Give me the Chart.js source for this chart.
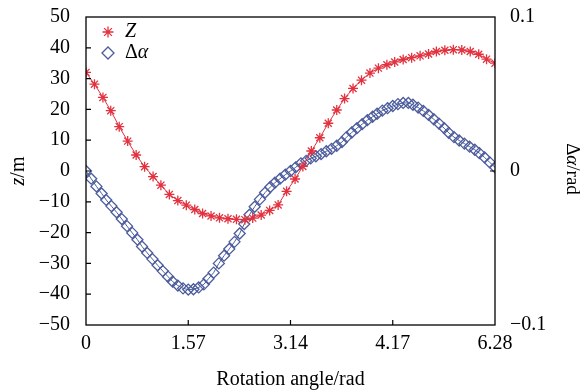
<!DOCTYPE html>
<html>
<head>
<meta charset="utf-8">
<script src="https://cdn.jsdelivr.net/npm/chart.js@4/dist/chart.umd.min.js"></script>
<style>
  html, body { margin: 0; padding: 0; background: #fff; }
  #wrap { width: 584px; height: 391px; }
</style>
</head>
<body>
<div id="wrap"><canvas id="chart" width="584" height="391"></canvas></div>
<script>
// Z series (m) vs rotation angle (rad)
const zAngle = [0.00, 0.13, 0.26, 0.38, 0.51, 0.64, 0.77, 0.90, 1.03, 1.15,
                1.28, 1.41, 1.54, 1.67, 1.79, 1.92, 2.05, 2.18, 2.31, 2.44,
                2.56, 2.69, 2.82, 2.95, 3.08, 3.21, 3.33, 3.46, 3.59, 3.72,
                3.85, 3.97, 4.10, 4.23, 4.36, 4.49, 4.62, 4.74, 4.87, 5.00,
                5.13, 5.26, 5.38, 5.51, 5.64, 5.77, 5.90, 6.03, 6.15, 6.28];
const zValue = [32.0, 28.2, 23.9, 19.6, 14.4, 9.7, 5.2, 1.4, -1.8, -4.6,
                -7.6, -9.6, -11.1, -12.5, -13.8, -14.6, -15.2, -15.5, -15.7, -15.8,
                -15.3, -14.3, -12.8, -11.0, -6.6, -2.6, 1.5, 6.5, 10.8, 15.5,
                19.8, 23.5, 26.8, 29.5, 31.8, 33.4, 34.5, 35.4, 36.2, 36.8,
                37.4, 38.0, 38.8, 39.2, 39.4, 39.3, 38.8, 37.9, 36.3, 35.0];

// delta alpha series (rad)
const alphaAngle = [0.00, 0.08, 0.16, 0.24, 0.31, 0.39, 0.47, 0.55, 0.63, 0.71, 0.79,
                    0.86, 0.94, 1.02, 1.10, 1.18, 1.26, 1.33, 1.41, 1.49, 1.57,
                    1.65, 1.73, 1.81, 1.88, 1.96, 2.04, 2.12, 2.20, 2.28, 2.36,
                    2.43, 2.51, 2.59, 2.67, 2.75, 2.83, 2.90, 2.98, 3.06, 3.14,
                    3.22, 3.30, 3.38, 3.45, 3.53, 3.61, 3.69, 3.77, 3.85, 3.93,
                    4.00, 4.08, 4.16, 4.24, 4.32, 4.40, 4.47, 4.55, 4.63, 4.71,
                    4.79, 4.87, 4.95, 5.02, 5.10, 5.18, 5.26, 5.34, 5.42, 5.50,
                    5.57, 5.65, 5.73, 5.81, 5.89, 5.97, 6.04, 6.12, 6.20, 6.28];
const alphaValue = [0, -0.0050, -0.0100, -0.0146, -0.0188, -0.0228, -0.0268, -0.0312, -0.0358, -0.0402, -0.0446,
                    -0.0490, -0.0532, -0.0572, -0.0612, -0.0650, -0.0686, -0.0718, -0.0744, -0.0762, -0.0770,
                    -0.0768, -0.0756, -0.0736, -0.0700, -0.0660, -0.0600, -0.0550, -0.0506, -0.0460, -0.0406,
                    -0.0344, -0.0284, -0.0232, -0.0184, -0.0140, -0.0104, -0.0076, -0.0050, -0.0024, 0.0000,
                    0.0024, 0.0050, 0.0066, 0.0082, 0.0096, 0.0110, 0.0128, 0.0144, 0.0164, 0.0188,
                    0.0220, 0.0250, 0.0278, 0.0304, 0.0330, 0.0352, 0.0372, 0.0392, 0.0408, 0.0422,
                    0.0434, 0.0442, 0.0442, 0.0430, 0.0412, 0.0390, 0.0364, 0.0336, 0.0308, 0.0278,
                    0.0248, 0.0220, 0.0198, 0.0178, 0.0158, 0.0138, 0.0116, 0.0088, 0.0056, 0.0024];

// x ticks (the source labels the 3rd-quarter tick "4.17")
const xTickValues = [0, 1.57, 3.14, 4.71, 6.28];
const xTickLabels = ['0', '1.57', '3.14', '4.17', '6.28'];
const rightTickValues = [-0.1, 0, 0.1];
const rightTickLabels = ['\u22120.1', '0', '0.1'];

const RED = '#e2323f';
const BLUE = '#4c5c9c';
const FONT = "'Liberation Serif', 'DejaVu Serif', serif";

function toPoints(xs, ys) {
    return xs.map((x, i) => ({ x: x, y: ys[i] }));
}

// draw a string made of upright / italic pieces
function drawParts(ctx, parts, x, y, size, align) {
    let total = 0;
    parts.forEach(p => {
        ctx.font = (p.i ? 'italic ' : '') + size + 'px ' + FONT;
        total += ctx.measureText(p.t).width;
    });
    let cx = align === 'center' ? x - total / 2 : x;
    ctx.textBaseline = 'middle';
    ctx.textAlign = 'left';
    parts.forEach(p => {
        ctx.font = (p.i ? 'italic ' : '') + size + 'px ' + FONT;
        ctx.fillText(p.t, cx, y);
        cx += ctx.measureText(p.t).width;
    });
}

const framePlugin = {
    id: 'frame',
    afterDraw(chart) {
        const ctx = chart.ctx;
        const a = chart.chartArea;
        const sx = chart.scales.x, sy = chart.scales.y, sy1 = chart.scales.y1;
        ctx.save();
        ctx.strokeStyle = '#000';
        ctx.lineWidth = 1.3;
        ctx.strokeRect(a.left, a.top, a.right - a.left, a.bottom - a.top);

        // inward ticks
        ctx.lineWidth = 1.2;
        ctx.beginPath();
        for (let v = -40; v <= 40; v += 10) {
            const py = sy.getPixelForValue(v);
            ctx.moveTo(a.left, py);
            ctx.lineTo(a.left + 5, py);
        }
        xTickValues.slice(1, -1).forEach(v => {
            const px = sx.getPixelForValue(v);
            ctx.moveTo(px, a.bottom);
            ctx.lineTo(px, a.bottom - 5);
        });
        const p0 = sy1.getPixelForValue(0);
        ctx.moveTo(a.right, p0);
        ctx.lineTo(a.right - 5, p0);
        ctx.stroke();

        // axis titles
        ctx.fillStyle = '#000';
        drawParts(ctx, [{ t: 'Rotation angle/rad' }], (a.left + a.right) / 2, 380, 20, 'center');

        ctx.save();
        ctx.translate(19, (a.top + a.bottom) / 2);
        ctx.rotate(-Math.PI / 2);
        drawParts(ctx, [{ t: 'z', i: true }, { t: '/m' }], 0, 0, 20, 'center');
        ctx.restore();

        ctx.save();
        ctx.translate(572, (a.top + a.bottom) / 2 - 2);
        ctx.rotate(Math.PI / 2);
        drawParts(ctx, [{ t: '\u0394' }, { t: '\u03b1', i: true }, { t: '/rad' }], 0, 0, 19, 'center');
        ctx.restore();

        // legend
        const ds = chart.data.datasets;
        const items = [
            { d: ds[0], y: 32, parts: [{ t: 'Z', i: true }] },
            { d: ds[1], y: 53, parts: [{ t: '\u0394' }, { t: '\u03b1', i: true }] }
        ];
        items.forEach(it => {
            ctx.strokeStyle = it.d.pointBorderColor;
            ctx.fillStyle = 'rgba(0,0,0,0)';
            ctx.lineWidth = it.d.pointBorderWidth;
            Chart.helpers.drawPoint(ctx, {
                pointStyle: it.d.pointStyle,
                radius: it.d.pointRadius + 0.5,
                rotation: 0,
                borderWidth: it.d.pointBorderWidth
            }, 108, it.y);
            ctx.fillStyle = '#000';
            drawParts(ctx, it.parts, 125, it.y, 20, 'left');
        });
        ctx.restore();
    }
};

// keep the plot box fixed: no extra end padding from tick labels
function fitVertical(width) {
    return s => {
        s.width = width;
        s.paddingTop = 0;
        s.paddingBottom = 0;
    };
}

new Chart(document.getElementById('chart'), {
    type: 'line',
    data: {
        datasets: [{
            label: 'Z',
            data: toPoints(zAngle, zValue),
            yAxisID: 'y',
            borderColor: RED,
            borderWidth: 1,
            pointStyle: 'star',
            pointRadius: 5,
            pointBorderColor: RED,
            pointBackgroundColor: RED,
            pointBorderWidth: 1.3,
            tension: 0
        }, {
            label: '\u0394\u03b1',
            data: toPoints(alphaAngle, alphaValue),
            yAxisID: 'y1',
            borderColor: BLUE,
            borderWidth: 1,
            pointStyle: 'rectRot',
            pointRadius: 5.5,
            pointBorderColor: BLUE,
            pointBackgroundColor: 'rgba(255,255,255,0)',
            pointBorderWidth: 1.3,
            tension: 0
        }]
    },
    options: {
        responsive: false,
        animation: false,
        devicePixelRatio: 1,
        layout: { padding: { top: 17, left: 0, right: 0, bottom: 0 } },
        plugins: {
            legend: { display: false },
            tooltip: { enabled: false }
        },
        scales: {
            x: {
                type: 'linear',
                min: 0,
                max: 6.28,
                afterBuildTicks: s => { s.ticks = xTickValues.map(v => ({ value: v })); },
                afterFit: s => { s.height = 66; s.paddingLeft = 0; s.paddingRight = 0; },
                grid: { display: false, drawTicks: false },
                border: { display: false },
                ticks: {
                    color: '#000',
                    padding: 7,
                    maxRotation: 0,
                    autoSkip: false,
                    font: { family: FONT, size: 20 },
                    callback: v => xTickLabels[xTickValues.indexOf(v)]
                }
            },
            y: {
                position: 'left',
                min: -50,
                max: 50,
                afterFit: fitVertical(86),
                grid: { display: false, drawTicks: false },
                border: { display: false },
                ticks: {
                    stepSize: 10,
                    color: '#000',
                    padding: 16,
                    font: { family: FONT, size: 20 },
                    callback: v => (v < 0 ? '\u2212' + Math.abs(v) : String(v))
                }
            },
            y1: {
                position: 'right',
                min: -0.1,
                max: 0.1,
                afterBuildTicks: s => { s.ticks = rightTickValues.map(v => ({ value: v })); },
                afterFit: fitVertical(89),
                grid: { display: false, drawTicks: false },
                border: { display: false },
                ticks: {
                    color: '#000',
                    padding: 15,
                    autoSkip: false,
                    font: { family: FONT, size: 20 },
                    callback: v => rightTickLabels[rightTickValues.indexOf(v)]
                }
            }
        }
    },
    plugins: [framePlugin]
});
</script>
</body>
</html>
